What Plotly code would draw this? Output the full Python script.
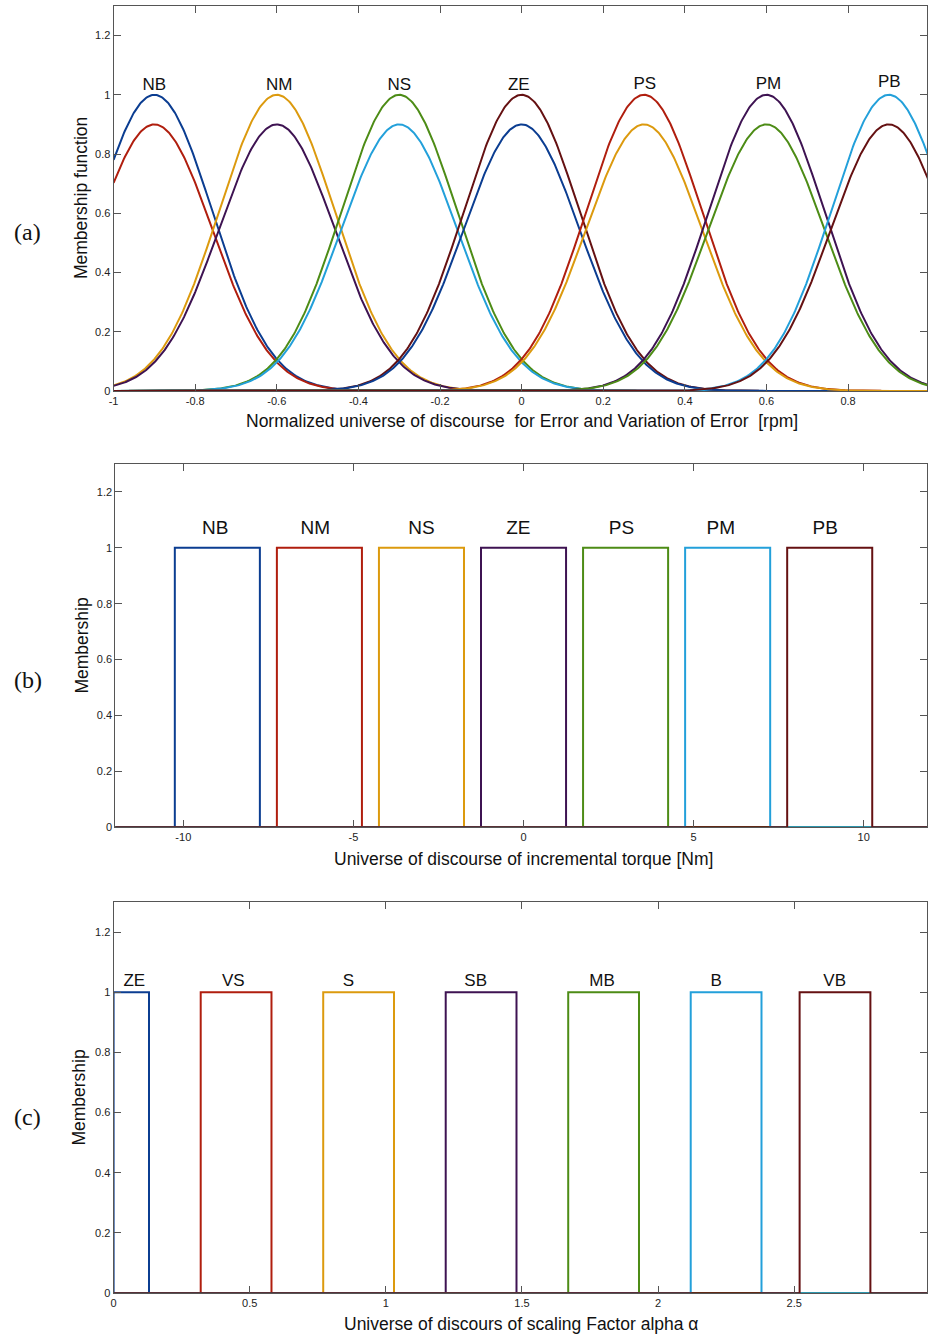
import numpy as np
import plotly.graph_objects as go

W, H = 928, 1342

# ---------------- data ----------------
palette = ["#0b3d91", "#b01e0e", "#dc9a0e", "#3e1352", "#4d8c16", "#23a0da", "#651112"]

# (a) Gaussian type-2 membership functions (upper / lower)
labels_a = ["NB", "NM", "NS", "ZE", "PS", "PM", "PB"]
centers_a = [-0.9, -0.6, -0.3, 0.0, 0.3, 0.6, 0.9]
sigma_a = [0.142, 0.142, 0.142, 0.142, 0.142, 0.142, 0.142]
upper_h = [1.0, 1.0, 1.0, 1.0, 1.0, 1.0, 1.0]
lower_h = [0.9, 0.9, 0.9, 0.9, 0.9, 0.9, 0.9]
label_a_x = [-0.9, -0.594, -0.30, -0.007, 0.302, 0.605, 0.901]
label_a_y = [1.03, 1.03, 1.03, 1.03, 1.035, 1.035, 1.04]

# (b) rectangular sets, incremental torque
labels_b = ["NB", "NM", "NS", "ZE", "PS", "PM", "PB"]
left_b = [-10.25, -7.25, -4.25, -1.25, 1.75, 4.75, 7.75]
right_b = [-7.75, -4.75, -1.75, 1.25, 4.25, 7.25, 10.25]
label_b_x = [-9.06, -6.12, -3.0, -0.15, 2.88, 5.8, 8.87]
label_b_y = [1.065] * 7

# (c) rectangular sets, scaling factor alpha
labels_c = ["ZE", "VS", "S", "SB", "MB", "B", "VB"]
left_c = [0.0, 0.32, 0.77, 1.22, 1.67, 2.12, 2.52]
right_c = [0.13, 0.58, 1.03, 1.48, 1.93, 2.38, 2.78]
label_c_x = [0.076, 0.44, 0.863, 1.33, 1.794, 2.214, 2.649]
label_c_y = [1.035] * 7

yticks = [0, 0.2, 0.4, 0.6, 0.8, 1.0, 1.2]
yticktext = ["0", "0.2", "0.4", "0.6", "0.8", "1", "1.2"]
xticks_a = [-1, -0.8, -0.6, -0.4, -0.2, 0, 0.2, 0.4, 0.6, 0.8]
xticktext_a = ["-1", "-0.8", "-0.6", "-0.4", "-0.2", "0", "0.2", "0.4", "0.6", "0.8"]
xticks_b = [-10, -5, 0, 5, 10]
xticktext_b = ["-10", "-5", "0", "5", "10"]
xticks_c = [0, 0.5, 1, 1.5, 2, 2.5, 3]
xticktext_c = ["0", "0.5", "1", "1.5", "2", "2.5", "3"]

domain_a = [-1.0, 1.0]
domain_b = [-12.0, 12.0]
domain_c = [0.0, 3.0]

fig = go.Figure()

def px_x(p):
    return p / W

def px_y(p):
    return 1 - p / H

xs = np.linspace(domain_a[0], domain_a[1], 801)
idx = 0
for c, s, hu, hl in zip(centers_a, sigma_a, upper_h, lower_h):
    for h in (hu, hl):
        ys = h * np.exp(-((xs - c) ** 2) / (2 * s ** 2))
        fig.add_trace(go.Scatter(x=xs, y=ys, mode="lines", xaxis="x", yaxis="y",
                                 line=dict(color=palette[idx % 7], width=2),
                                 hoverinfo="skip", showlegend=False))
        idx += 1

def rect_traces(lefts, rights, dom, xa, ya):
    for i, (a, b) in enumerate(zip(lefts, rights)):
        xr = [dom[0], a, a, b, b, dom[1]]
        yr = [0, 0, 1, 1, 0, 0]
        fig.add_trace(go.Scatter(x=xr, y=yr, mode="lines", xaxis=xa, yaxis=ya,
                                 line=dict(color=palette[i % 7], width=2),
                                 hoverinfo="skip", showlegend=False))

rect_traces(left_b, right_b, domain_b, "x2", "y2")
rect_traces(left_c, right_c, domain_c, "x3", "y3")

for labs, lx, ly, xa, ya, fs in [(labels_a, label_a_x, label_a_y, "x", "y", 17),
                                 (labels_b, label_b_x, label_b_y, "x2", "y2", 19),
                                 (labels_c, label_c_x, label_c_y, "x3", "y3", 17)]:
    fig.add_trace(go.Scatter(x=lx, y=ly, mode="text", text=labs, xaxis=xa, yaxis=ya,
                             textfont=dict(family="Liberation Sans, Arial", size=fs, color="#111"),
                             textposition="middle center", hoverinfo="skip", showlegend=False))

axis_common = dict(showgrid=False, zeroline=False, ticks="inside", ticklen=7, tickwidth=1,
                   tickcolor="#555", showline=True, linecolor="#555", linewidth=1,
                   mirror="ticks",
                   tickfont=dict(family="Liberation Sans, Arial", size=11, color="#222"))

ax = dict(
    xaxis=dict(domain=[px_x(109.3), 1.0], range=[-1, (928 - 520) / 410.7],
               tickvals=xticks_a, ticktext=xticktext_a, anchor="y", **axis_common),
    yaxis=dict(domain=[px_y(392.7), px_y(6)], range=[0, 1.3],
               tickvals=yticks, ticktext=yticktext, anchor="x", **axis_common),
    xaxis2=dict(domain=[px_x(111), 1.0], range=[-12, (928 - 521.8) / 34.25],
                tickvals=xticks_b, ticktext=xticktext_b, anchor="y2", **axis_common),
    yaxis2=dict(domain=[px_y(831), px_y(466)], range=[0, 1.3],
                tickvals=yticks, ticktext=yticktext, anchor="x2", **axis_common),
    xaxis3=dict(domain=[px_x(109.3), 1.0], range=[0, (928 - 109.3) / 274.0],
                tickvals=xticks_c, ticktext=xticktext_c, anchor="y3", **axis_common),
    yaxis3=dict(domain=[px_y(1299), px_y(906)], range=[0, 1.3],
                tickvals=yticks, ticktext=yticktext, anchor="x3", **axis_common),
)

title_font = dict(family="Liberation Sans, Arial", size=17.5, color="#111")
panel_font = dict(family="Liberation Serif, Times New Roman", size=24, color="#111")

annotations = [
    dict(text="Normalized universe of discourse  for Error and Variation of Error  [rpm]",
         x=px_x(520), y=px_y(423), font=title_font),
    dict(text="Membership function", x=px_x(76), y=px_y(199.5), textangle=-90, font=title_font),
    dict(text="Universe of discourse of incremental torque [Nm]",
         x=px_x(522), y=px_y(863), font=title_font),
    dict(text="Membership", x=px_x(78), y=px_y(648), textangle=-90, font=title_font),
    dict(text="Universe of discours of scaling Factor alpha α",
         x=px_x(519.5), y=px_y(1330), font=title_font),
    dict(text="Membership", x=px_x(75), y=px_y(1103), textangle=-90, font=title_font),
    dict(text="(a)", x=px_x(23), y=px_y(233), font=panel_font),
    dict(text="(b)", x=px_x(23), y=px_y(683), font=panel_font),
    dict(text="(c)", x=px_x(23), y=px_y(1122), font=panel_font),
]
for a in annotations:
    a.update(xref="paper", yref="paper", showarrow=False, xanchor="center", yanchor="middle")

fig.update_layout(width=W, height=H, margin=dict(l=0, r=0, t=0, b=0),
                  paper_bgcolor="white", plot_bgcolor="white",
                  showlegend=False, annotations=annotations, **ax)

# remove the default page margin so the figure sits exactly at the window origin
page_fix = (
    "document.body.style.margin='0';document.body.style.padding='0';"
    "document.documentElement.style.margin='0';document.documentElement.style.overflow='hidden';"
)
fig.write_html("out.html", post_script=page_fix)
